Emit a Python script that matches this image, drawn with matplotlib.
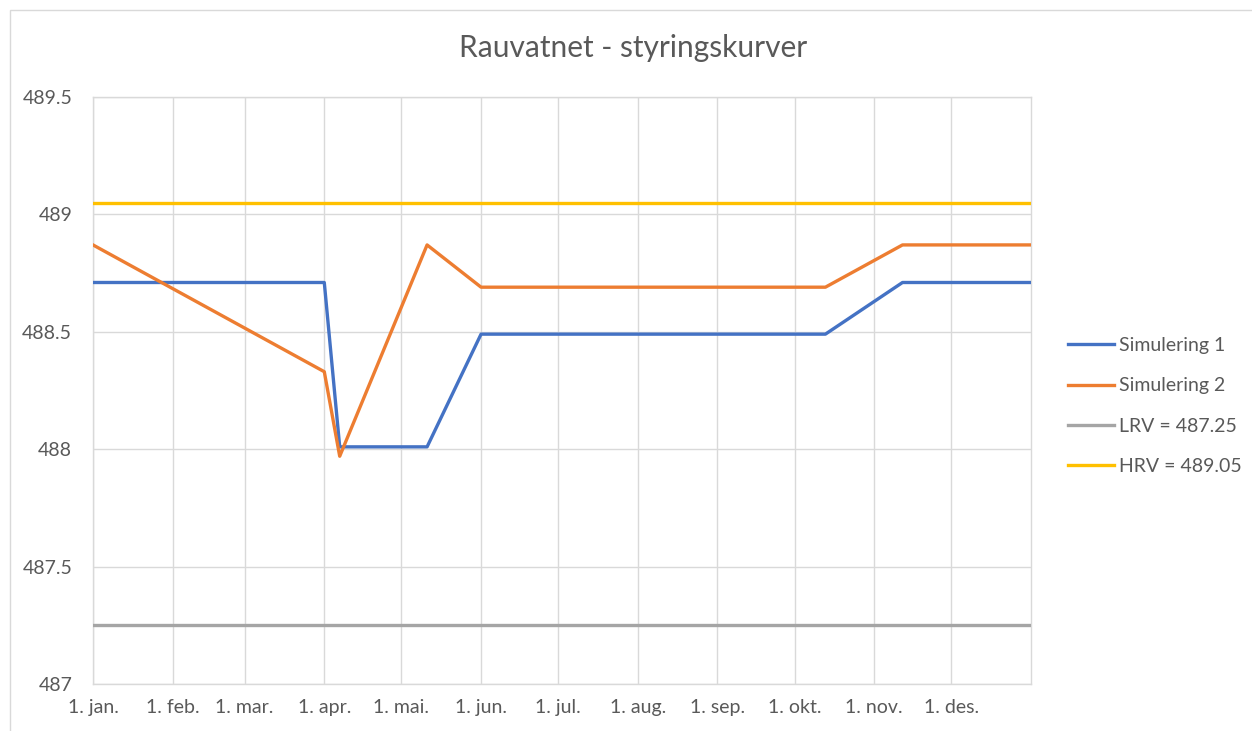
import matplotlib
matplotlib.use("Agg")
import matplotlib.pyplot as plt
import matplotlib.dates as mdates
import matplotlib.patches as patches
import numpy as np
from datetime import datetime

plt.rcParams['font.family'] = ['Lato', 'DejaVu Sans']

title = "Rauvatnet - styringskurver"

sim1_dates = ["2021-01-01", "2021-04-01", "2021-04-07", "2021-05-11", "2021-06-01",
              "2021-10-13", "2021-11-12", "2022-01-01"]
sim1_values = [488.71, 488.71, 488.01, 488.01, 488.49, 488.49, 488.71, 488.71]

sim2_dates = ["2021-01-01", "2021-04-01", "2021-04-07", "2021-05-11", "2021-06-01",
              "2021-10-13", "2021-11-12", "2022-01-01"]
sim2_values = [488.87, 488.33, 487.97, 488.87, 488.69, 488.69, 488.87, 488.87]

lrv_value = 487.25
hrv_value = 489.05

series_labels = ["Simulering 1", "Simulering 2", "LRV = 487.25", "HRV = 489.05"]
series_colors = ["#4472C4", "#ED7D31", "#A5A5A5", "#FFC000"]

month_labels = ["1. jan.", "1. feb.", "1. mar.", "1. apr.", "1. mai.", "1. jun.",
                "1. jul.", "1. aug.", "1. sep.", "1. okt.", "1. nov.", "1. des."]
y_ticks = [487, 487.5, 488, 488.5, 489, 489.5]
y_tick_labels = ["487", "487.5", "488", "488.5", "489", "489.5"]

W, H = 1252, 731
fig = plt.figure(figsize=(W / 100, H / 100), dpi=100)
ax = fig.add_axes([93 / W, (H - 684) / H, (1031 - 93) / W, (684 - 97) / H])

to_dt = lambda lst: [datetime.strptime(d, "%Y-%m-%d") for d in lst]
x_start = datetime(2021, 1, 1)
x_end = datetime(2022, 1, 1)

lw = 2.4
ax.plot(to_dt(sim1_dates), sim1_values, color=series_colors[0], lw=lw, label=series_labels[0], zorder=4)
ax.plot(to_dt(sim2_dates), sim2_values, color=series_colors[1], lw=lw, label=series_labels[1], zorder=5)
ax.plot([x_start, x_end], [lrv_value, lrv_value], color=series_colors[2], lw=lw, label=series_labels[2], zorder=3)
ax.plot([x_start, x_end], [hrv_value, hrv_value], color=series_colors[3], lw=lw, label=series_labels[3], zorder=3)

ax.set_xlim(x_start, x_end)
ax.set_ylim(487, 489.5)

month_ticks = [datetime(2021, m, 1) for m in range(1, 13)]
ax.set_xticks(month_ticks)
ax.set_xticklabels(month_labels)
ax.set_yticks(y_ticks)
ax.set_yticklabels(y_tick_labels)

grid_color = "#D9D9D9"
ax.grid(True, color=grid_color, lw=1.0, zorder=0)
ax.set_axisbelow(True)
for s in ax.spines.values():
    s.set_color(grid_color)
    s.set_linewidth(1.0)

ax.tick_params(axis='both', length=0, labelsize=14, colors="#595959")
ax.tick_params(axis='y', pad=15)
ax.tick_params(axis='x', pad=11)

fig.text(633 / W, (H - 48) / H, title, ha='center', va='center', fontsize=21.5, color="#595959")

leg = fig.legend(loc='center left', bbox_to_anchor=(1050 / W, (H - 406) / H), frameon=False,
                 fontsize=14, handlelength=2.4, labelspacing=1.2, handletextpad=0.25)
for t in leg.get_texts():
    t.set_color("#595959")

fig.patches.append(patches.Rectangle((10 / W, -0.05), 1.2, (H - 10) / H + 0.05,
                                     transform=fig.transFigure, fill=False,
                                     edgecolor=grid_color, lw=1.0))

fig.savefig("out.png", dpi=100, facecolor="white")
